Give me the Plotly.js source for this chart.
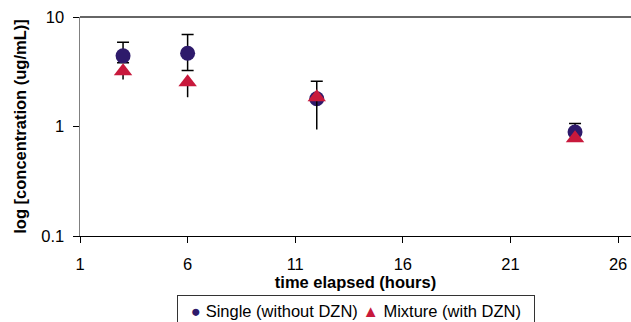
<!DOCTYPE html>
<html><head><meta charset="utf-8">
<script src="https://cdn.plot.ly/plotly-3.0.1.min.js"></script>
<style>html,body{margin:0;padding:0;background:#fff}#c{width:631px;height:322px}</style>
</head><body><div id="c"></div>
<script>
const hours = [3, 6, 12, 24];
const singleVals = [4.42, 4.67, 1.79, 0.89];
const singlePlus = [1.47, 2.25, 0.80, 0.175];
const singleMinus = [0.60, 1.42, 0.05, 0.02];
const mixtureVals = [3.20, 2.54, 1.85, 0.78];
const mixtureMinus = [0.51, 0.69, 0.91, 0.0];
const mixturePlus = [0, 0, 0, 0];
const yTicks = [0.1, 1, 10];
const yTickText = ['0.1', '1', '10'];
const xTicks = [1, 6, 11, 16, 21, 26];
const seriesNames = ['Single (without DZN)', 'Mixture (with DZN)'];
const seriesColors = ['#2E1A6B', '#C8193C'];

const font = 'Liberation Sans, Arial, sans-serif';
const data = [
  {x: hours, y: singleVals, type: 'scatter', mode: 'markers', name: seriesNames[0],
   marker: {symbol: 'circle', size: 15, color: seriesColors[0]},
   error_y: {type: 'data', symmetric: false, array: singlePlus, arrayminus: singleMinus,
             color: '#000', thickness: 1.5, width: 6}},
  {x: hours, y: mixtureVals, type: 'scatter', mode: 'markers', name: seriesNames[1],
   marker: {symbol: 'triangle-up', size: 16, color: seriesColors[1]},
   error_y: {type: 'data', symmetric: false, array: mixturePlus, arrayminus: mixtureMinus,
             color: '#000', thickness: 1.5, width: 0}}
];
const legendText = '<span style="color:' + seriesColors[0] + '">●</span> ' + seriesNames[0] +
  ' <span style="color:' + seriesColors[1] + '">▲</span> ' + seriesNames[1];
const layout = {
  width: 631, height: 322,
  margin: {l: 80, r: 0, t: 17, b: 86, autoexpand: false},
  paper_bgcolor: '#fff', plot_bgcolor: '#fff',
  font: {family: font, size: 16.5, color: '#000'},
  showlegend: false,
  xaxis: {range: [1, 26.6], tickvals: xTicks, ticks: 'outside', ticklen: 6, tickcolor: '#000',
          showline: true, linecolor: '#000', linewidth: 1, showgrid: false, zeroline: false,
          tickfont: {size: 16.5}, automargin: false, ticklabelstandoff: 7,
          title: {text: '<b>time elapsed (hours)</b>', font: {size: 16.5}, standoff: 4}},
  yaxis: {type: 'log', range: [-1, 1], tickvals: yTicks, ticktext: yTickText, ticks: 'outside',
          ticklen: 6, tickcolor: '#000', showline: true, linecolor: '#808080', linewidth: 1.5,
          showgrid: false, zeroline: false, tickfont: {size: 16.5}, automargin: false,
          ticklabelstandoff: 5,
          title: {text: '<b>log [concentration (ug/mL)]</b>', font: {size: 16.5}, standoff: 10}},
  shapes: [{type: 'line', xref: 'paper', yref: 'paper', x0: 0, x1: 1, y0: 1, y1: 1,
            line: {color: '#333', width: 1.5}}],
  annotations: [{text: legendText, xref: 'paper', yref: 'paper', x: 0.5, y: -0.3425,
                 xanchor: 'center', yanchor: 'middle', showarrow: false,
                 width: 350, height: 24, align: 'center', borderpad: 3,
                 bordercolor: '#333', borderwidth: 1, font: {size: 16.5, color: '#000'}}]
};
Plotly.newPlot('c', data, layout, {displayModeBar: false, staticPlot: true});
</script></body></html>
